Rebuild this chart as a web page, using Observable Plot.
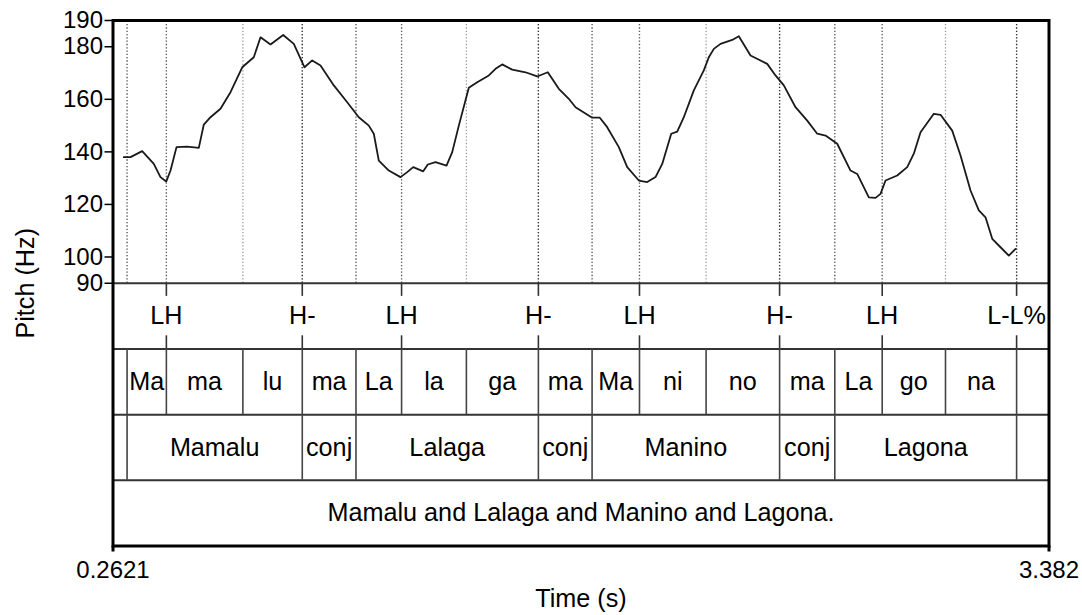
<!DOCTYPE html>
<html>
<head>
<meta charset="utf-8">
<script src="https://cdn.jsdelivr.net/npm/d3@7"></script>
<script src="https://cdn.jsdelivr.net/npm/@observablehq/plot@0.6"></script>
<style>
  html, body { margin: 0; padding: 0; background: #fff; }
</style>
</head>
<body>
<div id="chart"></div>
<script>
// Time range of the recording (s)
const timeStart = 0.2621;
const timeEnd = 3.382;
const xTicks = [timeStart, timeEnd];
const xTickLabels = ["0.2621", "3.382"];

// Pitch axis
const yTicks = [90, 100, 120, 140, 160, 180, 190];
const pitchMin = 90;
const pitchMax = 190;

// F0 track (s, Hz)
const pitchTime = [
  0.2981, 0.3204, 0.3594, 0.3981, 0.4204, 0.4394, 0.4538, 0.4738, 0.5094, 0.5481,
  0.5648, 0.5871, 0.6204, 0.6538, 0.6928, 0.7314, 0.7538, 0.7871, 0.8294, 0.8648,
  0.9004, 0.9261, 0.9538, 0.9981, 1.0428, 1.0814, 1.1148, 1.1314, 1.1481, 1.1814,
  1.2204, 1.2428, 1.2628, 1.2961, 1.3114, 1.3371, 1.3738, 1.3928, 1.4148, 1.4481,
  1.4761, 1.5148, 1.5371, 1.5594, 1.5928, 1.6371, 1.6761, 1.7114, 1.7481, 1.7814,
  1.8038, 1.8594, 1.8848, 1.9094, 1.9481, 1.9761, 2.0148, 2.0428, 2.0704, 2.0928,
  2.1228, 2.1428, 2.1648, 2.1981, 2.2314, 2.2481, 2.2648, 2.2871, 2.3261, 2.3481,
  2.3871, 2.4428, 2.4704, 2.4981, 2.5371, 2.5761, 2.6094, 2.6371, 2.6761, 2.7204,
  2.7428, 2.7814, 2.8038, 2.8204, 2.8371, 2.8761, 2.9094, 2.9314, 2.9538, 2.9981,
  3.0204, 3.0594, 3.0871, 3.1204, 3.1481, 3.1704, 3.1928, 3.2204, 3.2481, 3.2704
];
const pitchHz = [
  138.0, 138.0, 140.3, 135.4, 130.4, 128.7, 132.9, 141.8, 142.0, 141.5,
  150.4, 153.2, 156.4, 162.7, 172.2, 176.0, 183.6, 180.9, 184.5, 181.1,
  172.2, 174.8, 172.9, 165.3, 158.9, 153.2, 150.0, 146.9, 136.7, 132.9,
  130.4, 132.3, 134.2, 132.6, 135.2, 136.1, 134.8, 139.9, 150.0, 164.4,
  166.5, 169.1, 171.6, 173.3, 171.3, 170.3, 168.7, 170.3, 164.0, 160.2,
  157.0, 153.0, 153.0, 149.4, 141.8, 134.2, 129.1, 128.5, 130.4, 135.4,
  146.9, 147.7, 153.2, 163.4, 171.0, 176.0, 179.2, 181.1, 182.6, 184.0,
  176.7, 173.5, 169.1, 165.3, 157.0, 151.9, 146.9, 146.2, 143.1, 132.9,
  131.6, 122.7, 122.5, 124.0, 129.1, 131.0, 134.2, 139.3, 147.5, 154.5,
  154.1, 148.1, 138.6, 125.3, 117.7, 115.1, 106.9, 103.7, 100.5, 103.1
];

// Tier 1: tones (point tier)
const tonePoints = [0.440, 0.893, 1.224, 1.680, 2.017, 2.484, 2.826, 3.274];
const toneLabels = ["LH", "H-", "LH", "H-", "LH", "H-", "LH", "L-L%"];

// Tier 2: syllables (interval tier)
const syllableBounds = [0.2621, 0.309, 0.440, 0.695, 0.893, 1.072, 1.224, 1.440, 1.680,
  1.859, 2.017, 2.239, 2.484, 2.668, 2.826, 3.037, 3.274, 3.382];
const syllableLabels = ["", "Ma", "ma", "lu", "ma", "La", "la", "ga", "ma",
  "Ma", "ni", "no", "ma", "La", "go", "na", ""];

// Tier 3: words (interval tier)
const wordBounds = [0.2621, 0.309, 0.893, 1.072, 1.680, 1.859, 2.484, 2.668, 3.274, 3.382];
const wordLabels = ["", "Mamalu", "conj", "Lalaga", "conj", "Manino", "conj", "Lagona", ""];

// Tier 4: sentence (interval tier)
const sentenceBounds = [0.2621, 3.382];
const sentenceLabels = ["Mamalu and Lalaga and Manino and Lagona."];

// Layout: the pitch panel occupies [pitchMin, pitchMax] on the y scale,
// and the four tiers stack beneath it in bands of equal height.
const tierHeight = 25;
const tierTop = i => pitchMin - tierHeight * i;
const tierMid = i => pitchMin - tierHeight * (i + 0.5);
const yBottom = tierTop(4);

const pitch = pitchTime.map((t, i) => ({t, hz: pitchHz[i]}));
const tones = tonePoints.map((t, i) => ({t, label: toneLabels[i]}));
function intervals(bounds, labels) {
  return labels.map((label, i) => ({t: (bounds[i] + bounds[i + 1]) / 2, label}))
    .filter(d => d.label !== "");
}
const inner = bounds => bounds.slice(1, -1);

const font = "'Liberation Sans', Arial, Helvetica, sans-serif";
const fs = 25.2;
const tickFs = 24;
const dotted = {stroke: "#000", strokeOpacity: 0.4, strokeWidth: 1.3, strokeDasharray: "1.3,2"};
const label = {fontSize: fs, fill: "#000", textAnchor: "middle", lineAnchor: "middle"};

const chart = Plot.plot({
  width: 1082,
  height: 615,
  marginLeft: 112.5,
  marginRight: 33.5,
  marginTop: 20,
  marginBottom: 69.5,
  x: {domain: [timeStart, timeEnd]},
  y: {domain: [yBottom, pitchMax]},
  style: {fontFamily: font, fontSize: "24px", background: "#fff", color: "#000"},
  marks: [
    // boundary guides through the pitch panel, one set per tier
    Plot.ruleX(inner(syllableBounds), {y1: pitchMin, y2: pitchMax, ...dotted}),
    Plot.ruleX(inner(wordBounds), {y1: pitchMin, y2: pitchMax, ...dotted}),
    Plot.ruleX(tonePoints, {y1: pitchMin, y2: pitchMax, ...dotted}),

    // F0 contour
    Plot.line(pitch, {x: "t", y: "hz", stroke: "#1a1a1a", strokeWidth: 1.8}),

    // tier separators
    Plot.ruleY([tierTop(0), tierTop(1), tierTop(2), tierTop(3)], {stroke: "#333", strokeWidth: 2}),

    // tone points: short ticks at the top and bottom of the tone tier
    Plot.ruleX(tonePoints, {y1: tierTop(0), y2: tierTop(0) - 5, stroke: "#333", strokeWidth: 1.6}),
    Plot.ruleX(tonePoints, {y1: tierTop(1), y2: tierTop(1) + 5, stroke: "#333", strokeWidth: 1.6}),

    // interval boundaries
    Plot.ruleX(inner(syllableBounds), {y1: tierTop(1), y2: tierTop(2), stroke: "#444", strokeWidth: 1.6}),
    Plot.ruleX(inner(wordBounds), {y1: tierTop(2), y2: tierTop(3), stroke: "#444", strokeWidth: 1.6}),

    // tier labels
    Plot.text(tones, {x: "t", y: () => tierMid(0), text: "label", ...label}),
    Plot.text(intervals(syllableBounds, syllableLabels), {x: "t", y: () => tierMid(1), text: "label", ...label}),
    Plot.text(intervals(wordBounds, wordLabels), {x: "t", y: () => tierMid(2), text: "label", ...label}),
    Plot.text(intervals(sentenceBounds, sentenceLabels), {x: "t", y: () => tierMid(3), text: "label", ...label}),

    // axes
    Plot.axisY(yTicks, {tickSize: 8, tickPadding: 2, strokeWidth: 1.5, fontSize: tickFs, label: null}),
    Plot.axisX(xTicks, {tickSize: 6, tickPadding: 8.5, strokeWidth: 3, fontSize: tickFs, label: null,
      tickFormat: d => xTickLabels[xTicks.indexOf(d)]}),
    Plot.text(["Pitch (Hz)"], {frameAnchor: "left", rotate: -90, dx: -87.5, ...label}),
    Plot.text(["Time (s)"], {frameAnchor: "bottom", dy: 53, ...label}),

    Plot.frame({stroke: "#000", strokeWidth: 3})
  ]
});

document.getElementById("chart").appendChild(chart);
</script>
</body>
</html>
